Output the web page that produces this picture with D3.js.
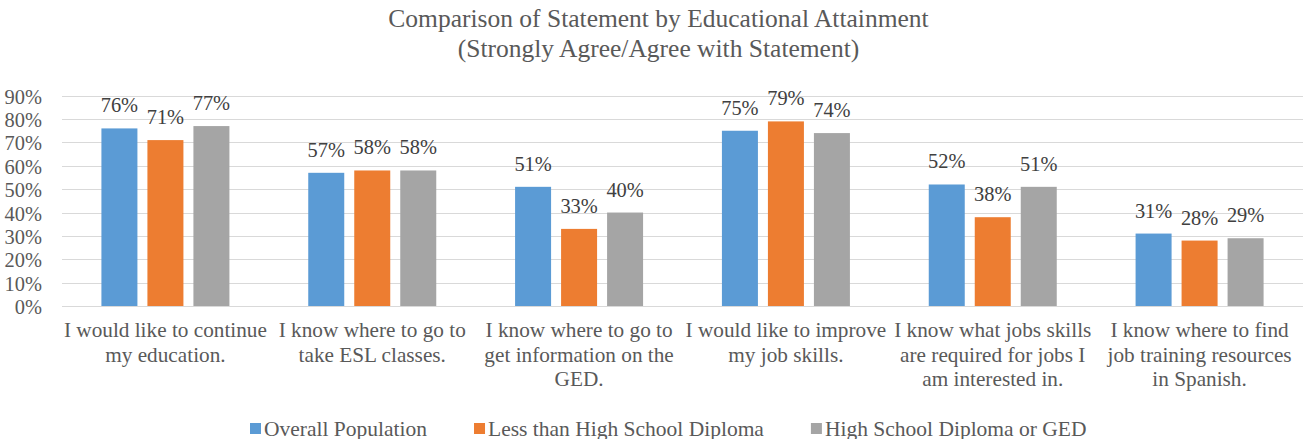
<!DOCTYPE html>
<html><head><meta charset="utf-8">
<script src="https://cdn.jsdelivr.net/npm/d3@7"></script>
<style>body{margin:0;background:#fff}svg{display:block}</style>
</head><body><svg id="c" width="1306" height="439"></svg>
<script>
const categories = [
  "I would like to continue\nmy education.",
  "I know where to go to\ntake ESL classes.",
  "I know where to go to\nget information on the\nGED.",
  "I would like to improve\nmy job skills.",
  "I know what jobs skills\nare required for jobs I\nam interested in.",
  "I know where to find\njob training resources\nin Spanish."
];
const seriesNames = ["Overall Population", "Less than High School Diploma", "High School Diploma or GED"];
const overall = [76, 57, 51, 75, 52, 31];
const lessThanHS = [71, 58, 33, 79, 38, 28];
const hsOrGED = [77, 58, 40, 74, 51, 29];
const yTicks = [0, 10, 20, 30, 40, 50, 60, 70, 80, 90];
const colors = ["#5B9BD5", "#ED7D31", "#A5A5A5"];
const title = ["Comparison of Statement by Educational Attainment", "(Strongly Agree/Agree with Statement)"];

const FONT = '"Liberation Serif", "Times New Roman", Tinos, serif';
const series = [overall, lessThanHS, hsOrGED];
const svg = d3.select("#c");
const W = 1306;
const x = d3.scaleBand().domain(d3.range(categories.length)).range([62, 1303]).paddingInner(0).paddingOuter(0);
const y = d3.scaleLinear().domain([0, 90]).range([306, 95.7]);
const bw = 36, step = 46;

// gridlines
svg.append("g").selectAll("line").data(yTicks).join("line")
  .attr("x1", 62).attr("x2", 1303)
  .attr("y1", d => Math.round(y(d)) + 0.5).attr("y2", d => Math.round(y(d)) + 0.5)
  .attr("stroke", "#D9D9D9").attr("stroke-width", 1);

// y axis labels
const yAxis = d3.axisLeft(y).tickValues(yTicks).tickFormat(d => d + "%").tickSize(0).tickPadding(0);
const ya = svg.append("g").attr("transform", "translate(42,0)").call(yAxis);
ya.select(".domain").remove();
ya.selectAll("text").attr("dy", null).attr("y", 7.5)
  .style("font-family", FONT).style("font-size", "20.4px").attr("fill", "#595959");

// bars
const groups = svg.append("g").selectAll("g").data(categories).join("g");
series.forEach((s, si) => {
  groups.append("rect")
    .attr("x", (d, i) => x(i) + x.bandwidth() / 2 + (si - 1) * step - bw / 2)
    .attr("width", bw)
    .attr("y", (d, i) => y(s[i]))
    .attr("height", (d, i) => y(0) - y(s[i]))
    .attr("fill", colors[si]);
  groups.append("text")
    .attr("x", (d, i) => x(i) + x.bandwidth() / 2 + (si - 1) * step)
    .attr("y", (d, i) => y(s[i]) - 16)
    .attr("text-anchor", "middle").style("font-family", FONT).style("font-size", "20.4px").attr("fill", "#404040")
    .text((d, i) => s[i] + "%");
});

// category labels
svg.append("g").selectAll("text").data(categories).join("text")
  .attr("text-anchor", "middle").style("font-family", FONT).style("font-size", "21.25px").attr("fill", "#595959")
  .attr("x", (d, i) => x(i) + x.bandwidth() / 2)
  .attr("y", 337)
  .each(function(d) {
    const t = d3.select(this);
    d.split("\n").forEach((line, li) => {
      t.append("tspan").attr("x", t.attr("x")).attr("dy", li === 0 ? 0 : 24.5).text(line);
    });
  });

// title
svg.append("g").selectAll("text").data(title).join("text")
  .attr("x", 658.5).attr("y", (d, i) => 27 + i * 29.5)
  .attr("text-anchor", "middle").style("font-family", FONT).style("font-size", "25.5px").attr("fill", "#595959")
  .text(d => d);

// legend
const lg = svg.append("g");
let lx = 250;
seriesNames.forEach((name, i) => {
  lg.append("rect").attr("x", lx).attr("y", 423).attr("width", 11).attr("height", 11).attr("fill", colors[i]);
  const t = lg.append("text").attr("x", lx + 14).attr("y", 435.5)
    .style("font-family", FONT).style("font-size", "21.5px").attr("fill", "#595959").text(name);
  lx = lx + 14 + t.node().getComputedTextLength() + 47;
});
</script></body></html>
